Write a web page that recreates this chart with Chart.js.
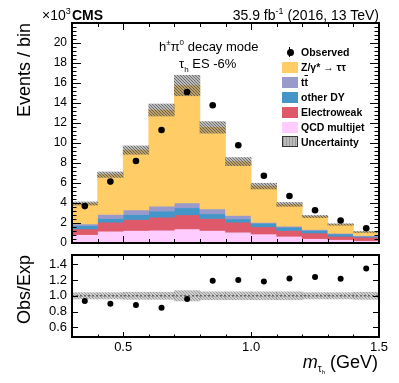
<!DOCTYPE html>
<html>
<head>
<meta charset="utf-8">
<script src="https://cdn.jsdelivr.net/npm/chart.js@4.4.1/dist/chart.umd.min.js"></script>
<style>
  body { margin: 0; background: #fff; }
  #wrap { position: relative; width: 399px; height: 383px; overflow: hidden; font-family: "Liberation Sans", Arial, sans-serif; color: #000; }
  canvas { position: absolute; left: 0; }
  .lbl { position: absolute; white-space: nowrap; line-height: 1; }
  .leg { position: absolute; left: 301px; font-size: 10.5px; font-weight: bold; white-space: nowrap; line-height: 1; }
  .box { position: absolute; left: 282px; width: 16px; height: 11px; }
</style>
</head>
<body>
<div id="wrap">
  <canvas id="main" width="399" height="250" style="top:0"></canvas>
  <canvas id="ratio" width="399" height="133" style="top:250px"></canvas>

  <div class="lbl" style="left:42px;top:8px;font-size:14px">×10<span style="font-size:9px;position:relative;top:-6px">3</span></div>
  <div class="lbl" style="left:72px;top:8px;font-size:14px;font-weight:bold">CMS</div>
  <div class="lbl" style="right:20px;top:8px;font-size:14px">35.9 fb<span style="font-size:9px;position:relative;top:-6px">-1</span> (2016, 13 TeV)</div>

  <div class="lbl" style="left:159px;top:40px;font-size:13px">h<span style="font-size:8px;position:relative;top:-6px">±</span>π<span style="font-size:8px;position:relative;top:-6px">0</span> decay mode</div>
  <div class="lbl" style="left:179px;top:57px;font-size:13px">τ<span style="font-size:8px;position:relative;top:4px">h</span> ES -6%</div>

  <!-- legend -->
  <div style="position:absolute;left:289px;top:47px;width:1px;height:10px;background:#000"></div>
  <div style="position:absolute;left:286.5px;top:48.5px;width:7px;height:7px;border-radius:50%;background:#000"></div>
  <div class="leg" style="top:47px">Observed</div>
  <div class="box" style="top:61.5px;background:#ffcc66"></div>
  <div class="leg" style="top:62px">Z/γ* <span style="font-weight:normal">→</span> ττ</div>
  <div class="box" style="top:76.5px;background:#9999cc"></div>
  <div class="leg" style="top:77px">t<span style="text-decoration:overline">t</span></div>
  <div class="box" style="top:91.5px;background:#4496c8"></div>
  <div class="leg" style="top:92px">other DY</div>
  <div class="box" style="top:106.5px;background:#de5a6a"></div>
  <div class="leg" style="top:107px">Electroweak</div>
  <div class="box" style="top:121.5px;background:#ffccff"></div>
  <div class="leg" style="top:122px">QCD multijet</div>
  <div class="box" style="top:136px;width:14px;height:9px;border:1px solid #333;background:#bbb repeating-linear-gradient(90deg,#999 0 1px,transparent 1px 3px)"></div>
  <div class="leg" style="top:137px">Uncertainty</div>

  <div class="lbl" style="right:21px;top:353px;font-size:18px"><i>m</i><span style="font-size:10px;position:relative;top:4px">τ<span style="font-size:6px;position:relative;top:2px">h</span></span> (GeV)</div>
</div>

<script>
const binCenters = [0.35, 0.45, 0.55, 0.65, 0.75, 0.85, 0.95, 1.05, 1.15, 1.25, 1.35, 1.45];
const observed = [3.69, 6.14, 8.20, 11.30, 15.10, 13.77, 9.77, 6.72, 4.70, 3.28, 2.25, 1.48];
const zttVals = [2.04, 3.98, 5.97, 9.61, 11.73, 8.14, 5.39, 3.62, 2.18, 1.30, 0.88, 0.36];
const ttVals = [0.16, 0.40, 0.47, 0.50, 0.50, 0.50, 0.34, 0.10, 0.10, 0.10, 0.07, 0.07];
const dyVals = [0.34, 0.37, 0.50, 0.61, 0.70, 0.47, 0.33, 0.35, 0.33, 0.25, 0.23, 0.09];
const ewkVals = [0.57, 0.90, 1.10, 1.30, 1.41, 1.20, 1.00, 0.72, 0.58, 0.56, 0.33, 0.34];
const qcdVals = [0.84, 1.18, 1.25, 1.28, 1.41, 1.25, 1.08, 0.90, 0.67, 0.44, 0.34, 0.24];
const relUnc = [0.04, 0.04, 0.045, 0.045, 0.065, 0.05, 0.05, 0.05, 0.05, 0.04, 0.04, 0.045];

const yTicksMain = [0, 2, 4, 6, 8, 10, 12, 14, 16, 18, 20];
const yTicksRatio = [0.6, 0.8, 1.0, 1.2, 1.4];
const xTicks = [0.5, 1.0, 1.5];

Chart.defaults.font.family = "'Liberation Sans', Arial, sans-serif";
Chart.defaults.color = '#000';

// stack order bottom -> top
const stackOrder = [
    { label: 'QCD multijet', vals: qcdVals, color: '#ffccff' },
    { label: 'Electroweak', vals: ewkVals, color: '#de5a6a' },
    { label: 'other DY', vals: dyVals, color: '#4496c8' },
    { label: 'tt', vals: ttVals, color: '#9999cc' },
    { label: 'Z/gamma* -> tautau', vals: zttVals, color: '#ffcc66' }
];

const totals = binCenters.map(() => 0);
const stackSets = stackOrder.map((s, k) => {
    const data = binCenters.map((x, i) => {
        const lo = totals[i];
        totals[i] += s.vals[i];
        return { x: x, y: [lo, totals[i]] };
    });
    return { label: s.label, data: data, backgroundColor: s.color, order: 10 - k };
});

function hatch(base, dot) {
    const c = document.createElement('canvas');
    c.width = 3; c.height = 3;
    const g = c.getContext('2d');
    g.fillStyle = base;
    g.fillRect(0, 0, 3, 3);
    g.fillStyle = dot;
    g.fillRect(0, 0, 1, 1);
    g.fillRect(1, 1, 1, 1);
    g.fillRect(2, 2, 1, 1);
    return g.createPattern(c, 'repeat');
}

const frameTicks = {
    id: 'frameTicks',
    afterDraw(chart, args, o) {
        const { ctx, chartArea: a, scales: { x, y } } = chart;
        ctx.save();
        ctx.strokeStyle = '#000';
        ctx.lineWidth = 1;
        ctx.beginPath();
        const nx = Math.round((x.max - x.min) / o.xMinor);
        for (let i = 0; i <= nx; i++) {
            const v = x.min + i * o.xMinor;
            const maj = Math.abs(v / o.xMajor - Math.round(v / o.xMajor)) < 1e-6;
            const L = maj ? o.xMajLen : o.xMinLen;
            const px = Math.round(x.getPixelForValue(v)) + 0.5;
            ctx.moveTo(px, a.bottom); ctx.lineTo(px, a.bottom - L);
            ctx.moveTo(px, a.top); ctx.lineTo(px, a.top + L);
        }
        const y0 = Math.ceil(y.min / o.yMinor - 1e-6);
        const y1 = Math.floor(y.max / o.yMinor + 1e-6);
        for (let j = y0; j <= y1; j++) {
            const v = j * o.yMinor;
            const maj = Math.abs(v / o.yMajor - Math.round(v / o.yMajor)) < 1e-6;
            const L = maj ? o.yMajLen : o.yMinLen;
            const py = Math.round(y.getPixelForValue(v)) + 0.5;
            ctx.moveTo(a.left, py); ctx.lineTo(a.left + L, py);
            ctx.moveTo(a.right, py); ctx.lineTo(a.right - L, py);
        }
        ctx.stroke();
        ctx.lineWidth = 2;
        ctx.strokeRect(a.left, a.top, a.right - a.left, a.bottom - a.top);
        ctx.restore();
    }
};

const mainChart = new Chart(document.getElementById('main'), {
    type: 'bar',
    data: {
        datasets: [
            {
                type: 'line', label: 'Observed',
                data: binCenters.map((x, i) => ({ x: x, y: observed[i] })),
                showLine: false, pointRadius: 3.3, pointBorderWidth: 0,
                pointBackgroundColor: '#000', order: 0
            },
            {
                label: 'Uncertainty',
                data: binCenters.map((x, i) => ({ x: x, y: [totals[i] * (1 - relUnc[i]), totals[i] * (1 + relUnc[i])] })),
                backgroundColor: hatch('rgba(105,105,105,0.45)', 'rgba(60,60,60,0.6)'),
                order: 1
            },
            ...stackSets
        ]
    },
    options: {
        responsive: false,
        animation: false,
        devicePixelRatio: 1,
        layout: { padding: { top: 23, right: 20, bottom: 7, left: 0 } },
        datasets: { bar: { grouped: false, barPercentage: 1, categoryPercentage: 1, borderWidth: 0 } },
        plugins: {
            legend: { display: false },
            tooltip: { enabled: false },
            frameTicks: { xMinor: 0.1, xMajor: 0.5, xMajLen: 7, xMinLen: 4, yMinor: 0.4, yMajor: 2, yMajLen: 9, yMinLen: 4.5 }
        },
        scales: {
            x: { type: 'linear', min: 0.3, max: 1.5, offset: false, display: false },
            y: {
                min: 0, max: 22,
                afterBuildTicks(s) { s.ticks = yTicksMain.map(v => ({ value: v })); },
                afterFit(s) { s.width = 72; s.paddingTop = 0; s.paddingBottom = 0; },
                grid: { display: false, drawTicks: false },
                border: { display: false },
                ticks: { padding: 5, font: { size: 12 }, color: '#000' },
                title: { display: true, text: 'Events / bin', align: 'end', font: { size: 18 }, color: '#000', padding: { top: 14, bottom: 0 } }
            }
        }
    },
    plugins: [frameTicks]
});

const ratioChart = new Chart(document.getElementById('ratio'), {
    type: 'bar',
    data: {
        datasets: [
            {
                type: 'line', label: 'Obs/Exp',
                data: binCenters.map((x, i) => ({ x: x, y: observed[i] / totals[i] })),
                showLine: false, pointRadius: 3, pointBorderWidth: 0,
                pointBackgroundColor: '#000', order: 0
            },
            {
                type: 'line', label: 'unity',
                data: [{ x: 0.3, y: 1 }, { x: 1.5, y: 1 }],
                borderColor: '#666', borderWidth: 1.5, borderDash: [2, 2],
                pointRadius: 0, order: 1
            },
            {
                label: 'Uncertainty',
                data: binCenters.map((x, i) => ({ x: x, y: [1 - relUnc[i], 1 + relUnc[i]] })),
                backgroundColor: hatch('rgba(130,130,130,0.38)', 'rgba(110,110,110,0.5)'),
                order: 2
            }
        ]
    },
    options: {
        responsive: false,
        animation: false,
        devicePixelRatio: 1,
        layout: { padding: { top: 5, right: 20, bottom: 0, left: 0 } },
        datasets: { bar: { grouped: false, barPercentage: 1, categoryPercentage: 1, borderWidth: 0 } },
        plugins: {
            legend: { display: false },
            tooltip: { enabled: false },
            frameTicks: { xMinor: 0.1, xMajor: 0.5, xMajLen: 5, xMinLen: 2.5, yMinor: 0.2, yMajor: 0.2, yMajLen: 6, yMinLen: 6 }
        },
        scales: {
            x: {
                type: 'linear', min: 0.3, max: 1.5, offset: false,
                afterBuildTicks(s) { s.ticks = xTicks.map(v => ({ value: v })); },
                afterFit(s) { s.height = 46; s.paddingLeft = 0; s.paddingRight = 0; },
                grid: { display: false, drawTicks: false },
                border: { display: false },
                ticks: { padding: 3, font: { size: 13 }, color: '#000', maxRotation: 0, callback: v => v.toFixed(1) }
            },
            y: {
                min: 0.48, max: 1.515,
                afterBuildTicks(s) { s.ticks = yTicksRatio.map(v => ({ value: v })); },
                afterFit(s) { s.width = 72; s.paddingTop = 0; s.paddingBottom = 0; },
                grid: { display: false, drawTicks: false },
                border: { display: false },
                ticks: { padding: 5, font: { size: 13 }, color: '#000', callback: v => v.toFixed(1) },
                title: { display: true, text: 'Obs/Exp', align: 'end', font: { size: 18 }, color: '#000', padding: { top: 14, bottom: 0 } }
            }
        }
    },
    plugins: [frameTicks]
});
</script>
</body>
</html>
